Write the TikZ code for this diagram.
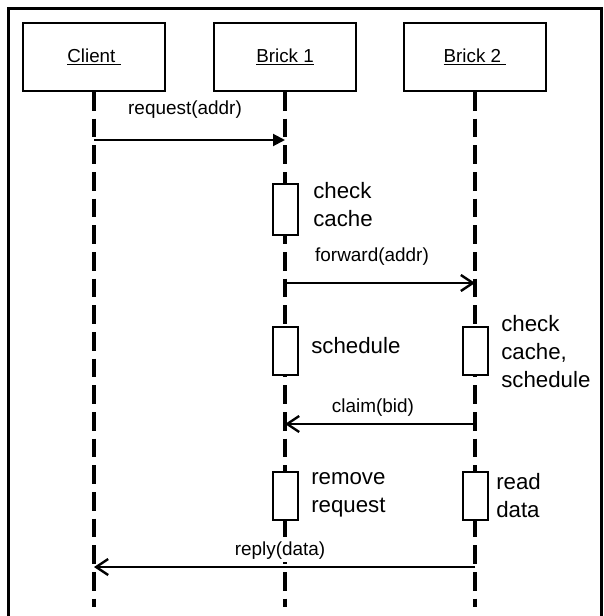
\documentclass[tikz,border=0pt]{standalone}
\usepackage{fontspec}
\setmainfont{Liberation Sans}
\usetikzlibrary{arrows.meta}
\tikzset{lifeline/.style={line width=3pt, dash pattern=on 14pt off 6pt}}
\tikzset{party/.style={draw, line width=1.6pt, minimum width=106.5pt, minimum height=51pt, inner sep=0pt, font=\fontsize{14.1}{17}\selectfont}}
\tikzset{actbox/.style={draw, fill=white, line width=1.5pt, minimum width=18.75pt, minimum height=36pt, inner sep=0pt}}
\tikzset{acttext/.style={anchor=base west, align=left, inner sep=0pt, font=\fontsize{16.7}{21}\selectfont}}
\tikzset{msgtext/.style={anchor=base, inner sep=0pt, font=\fontsize{14.2}{17}\selectfont}}
\tikzset{callmsg/.style={line width=1.5pt, -{Triangle[length=9pt,width=9pt]}}}
\tikzset{sendmsg/.style={line width=1.5pt, -{Straight Barb[length=9pt,width=12pt,line width=1.8pt]}}}

\begin{document}
\begin{tikzpicture}[x=0.75pt, y=-0.75pt]
  \useasboundingbox (0,0) rectangle (603,616);
  % frame, open at the bottom
  \draw[line width=2.25pt] (8,616) -- (8,9) -- (601,9) -- (601,616);

  \node (client) at (94,57)[party]{\underline{Client\ }};
  \node (brick1) at (285,57)[party]{\underline{Brick 1}};
  \node (brick2) at (475,57)[party]{\underline{Brick 2\ }};

  \coordinate (client-end) at (94,607);
  \coordinate (brick1-end) at (285,607);
  \coordinate (brick2-end) at (475,607);
  \draw[lifeline] (client.south) -- (client-end);
  \draw[lifeline] (brick1.south) -- (brick1-end);
  \draw[lifeline] (brick2.south) -- (brick2-end);

  \node (chk1) at (285,209.5)[actbox, minimum height=38.25pt]{};
  \node (sch1) at (285,351)[actbox]{};
  \node (rem1) at (285,496)[actbox]{};
  \node (sch2) at (475,351)[actbox]{};
  \node (read2) at (475,496)[actbox]{};

  % multi-line texts sit on their last baseline
  \node (chk1text) at (313,227)[acttext]{check\\cache};
  \node (sch1text) at (311,353)[acttext]{schedule};
  \node (sch2text) at (501,387)[acttext]{check\\cache,\\schedule};
  \node (rem1text) at (311,512)[acttext]{remove\\request};
  \node (read2text) at (496,517)[acttext]{read\\data};

  % messages
  \coordinate (req-s) at (94,140);
  \coordinate (req-e) at (285,140);
  \coordinate (fwd-s) at (285,283);
  \coordinate (fwd-e) at (475,283);
  \coordinate (clm-s) at (475,424);
  \coordinate (clm-e) at (285,424);
  \coordinate (rep-s) at (475,567);
  \coordinate (rep-e) at (94,567);
  \draw[callmsg] (req-s) -- (req-e);
  \draw[sendmsg] (fwd-s) -- (fwd-e);
  \draw[sendmsg] (clm-s) -- (clm-e);
  \draw[sendmsg] (rep-s) -- (rep-e);

  \node (reqtext) at (185,115)[msgtext]{request(addr)};
  \node (fwdtext) at (372,261)[msgtext]{forward(addr)};
  \node (clmtext) at (373,412)[msgtext]{claim(bid)};
  \node (reptext) at (280,555)[msgtext, fill=white, inner ysep=2pt]{reply(data)};
\end{tikzpicture}
\end{document}
